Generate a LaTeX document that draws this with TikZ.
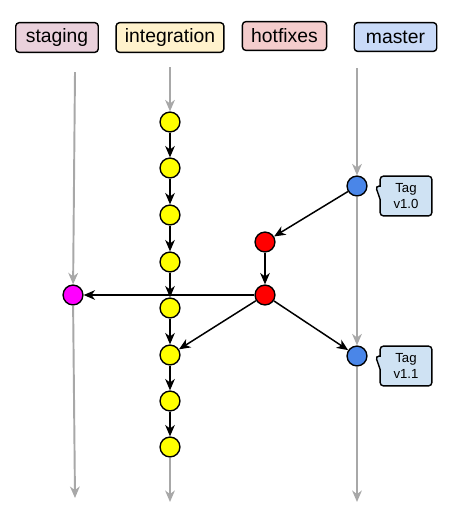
\documentclass[tikz,border=0pt]{standalone}
\usepackage{fontspec}
\setmainfont{Liberation Sans}
\usetikzlibrary{arrows.meta,shapes.callouts}
\definecolor{stgcol}{HTML}{EAD1DC}
\definecolor{intcol}{HTML}{FFF2CC}
\definecolor{hotcol}{HTML}{F4CCCC}
\definecolor{mstcol}{HTML}{C9DAF8}
\definecolor{tagcol}{HTML}{CFE2F3}
\definecolor{bluecommit}{HTML}{4A86E8}
\definecolor{yellowcommit}{HTML}{FFFF00}
\definecolor{redcommit}{HTML}{FF0000}
\definecolor{magentacommit}{HTML}{FF00FF}
\definecolor{trackgray}{HTML}{A8A8A8}
\begin{document}
\begin{tikzpicture}[x=0.02cm,y=-0.02cm,
    branch/.style={draw,rounded corners=2pt,line width=0.8pt,minimum width=47pt,minimum height=16.4pt,inner xsep=5pt,font=\fontsize{11}{13}\selectfont},
    commit/.style={circle,draw,line width=0.8pt,minimum size=11.3pt,inner sep=0pt},
    flow/.style={-{Stealth[length=6.5pt,width=5.5pt,inset=2pt]},line width=0.85pt},
    track/.style={-{Stealth[length=6.5pt,width=5.5pt,inset=2pt]},line width=1.1pt,trackgray},
    tag/.style={rectangle callout,draw,rounded corners=2pt,fill=tagcol,line width=0.8pt,minimum width=29.5pt,minimum height=22.7pt,inner sep=1pt,callout pointer width=7.5pt,align=center,font=\fontsize{7.5}{9}\selectfont}]
        \useasboundingbox (0,0) rectangle (476,515);
        \node[branch,fill=stgcol] (stg) at (57,37.5) {staging};
        \node[branch,fill=intcol] (intg) at (170,37.5) {integration};
        \node[branch,fill=hotcol] (hot) at (284.5,36) {hotfixes};
        \node[branch,fill=mstcol] (mst) at (395.5,37) {master};
        \coordinate (stgtop) at (75,72);
        \coordinate (stgend) at (75,498);
        \coordinate (inttop) at (170,67);
        \coordinate (intend) at (170,502);
        \coordinate (msttop) at (357,68);
        \coordinate (mstend) at (357,502);
        \foreach \y [count=\i] in {122,168,215,262,308,355,401,447}{
            \node[commit,fill=yellowcommit] (i\i) at (170,\y) {};
        }
        \node[commit,fill=magentacommit] (s1) at (73,295) {};
        \node[commit,fill=redcommit] (h1) at (265,242) {};
        \node[commit,fill=redcommit] (h2) at (265,295) {};
        \node[commit,fill=bluecommit] (m1) at (357,186) {};
        \node[commit,fill=bluecommit] (m2) at (357,356) {};
        \node[tag,callout absolute pointer={([xshift=4.5pt]m1.east)}] (tag1) at (406,196) {Tag\\v1.0};
        \node[tag,callout absolute pointer={([xshift=4.5pt]m2.east)}] (tag2) at (406,366) {Tag\\v1.1};
        \draw[track] (stgtop) -- (s1);
        \draw[track] (s1) -- (stgend);
        \draw[track] (inttop) -- (i1);
        \draw[track] (i8) -- (intend);
        \draw[track] (msttop) -- (m1);
        \draw[track] (m1) -- (m2);
        \draw[track] (m2) -- (mstend);
        \draw[flow] (h2) -- (s1);
        \foreach \a/\b in {1/2,2/3,3/4,4/5,5/6,6/7,7/8}{
            \draw[flow] (i\a) -- (i\b);
        }
        \draw[flow] (m1) -- (h1);
        \draw[flow] (h1) -- (h2);
        \draw[flow] (h2) -- (i6);
        \draw[flow] (h2) -- (m2);
    \end{tikzpicture}
\end{document}
